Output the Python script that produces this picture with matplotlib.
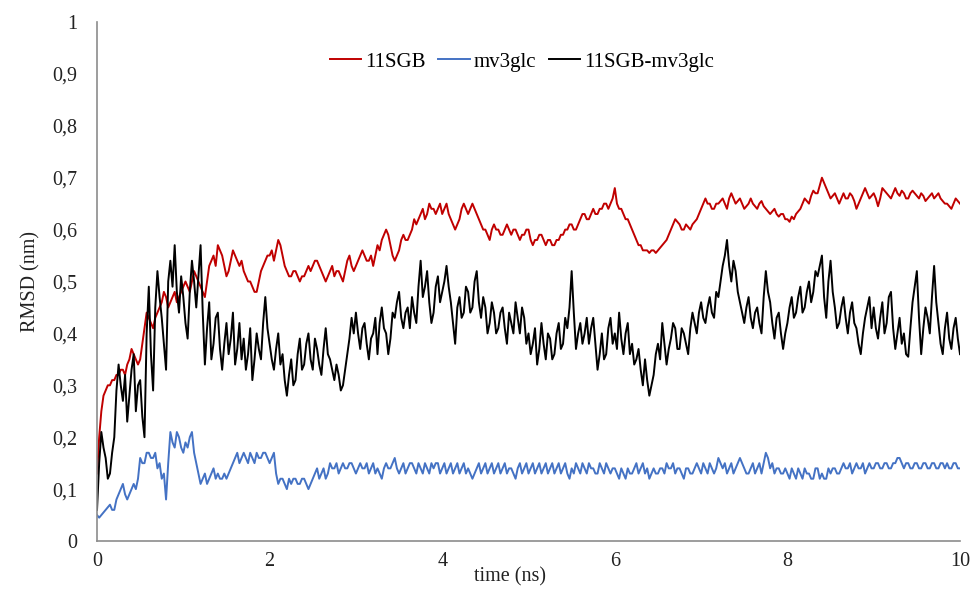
import numpy as np
import matplotlib
matplotlib.use("Agg")
import matplotlib.pyplot as plt

plt.rcParams["font.family"] = ["Liberation Serif", "DejaVu Serif"]

# RMSD traces sampled every 0.025 ns (one row per nanosecond)
time_step = 0.025

rmsd_11sgb = [
    0.13, 0.20, 0.25, 0.28, 0.29, 0.30, 0.30, 0.31, 0.31, 0.32, 0.32, 0.33, 0.33, 0.32, 0.34, 0.35, 0.37, 0.36, 0.35, 0.34,
    0.35, 0.38, 0.41, 0.44, 0.43, 0.42, 0.41, 0.43, 0.44, 0.45, 0.46, 0.48, 0.47, 0.45, 0.46, 0.47, 0.48, 0.46, 0.47, 0.48,
    0.49, 0.50, 0.49, 0.48, 0.50, 0.52, 0.51, 0.50, 0.49, 0.48, 0.47, 0.50, 0.53, 0.54, 0.55, 0.53, 0.57, 0.56, 0.55, 0.53,
    0.51, 0.52, 0.54, 0.56, 0.55, 0.54, 0.53, 0.54, 0.52, 0.51, 0.50, 0.50, 0.49, 0.48, 0.48, 0.50, 0.52, 0.53, 0.54, 0.55,
    0.55, 0.56, 0.54, 0.56, 0.58, 0.57, 0.55, 0.53, 0.52, 0.51, 0.51, 0.52, 0.52, 0.51, 0.50, 0.51, 0.51, 0.52, 0.53, 0.52,
    0.53, 0.54, 0.54, 0.53, 0.52, 0.51, 0.50, 0.51, 0.52, 0.53, 0.51, 0.52, 0.52, 0.51, 0.50, 0.52, 0.54, 0.55, 0.53, 0.52,
    0.53, 0.54, 0.55, 0.56, 0.55, 0.54, 0.54, 0.55, 0.53, 0.55, 0.57, 0.56, 0.58, 0.59, 0.60, 0.59, 0.57, 0.55, 0.54, 0.55,
    0.56, 0.58, 0.59, 0.58, 0.58, 0.59, 0.60, 0.62, 0.61, 0.62, 0.63, 0.64, 0.62, 0.63, 0.65, 0.64, 0.64, 0.63, 0.64, 0.65,
    0.63, 0.64, 0.65, 0.63, 0.62, 0.61, 0.60, 0.61, 0.62, 0.64, 0.65, 0.64, 0.63, 0.64, 0.65, 0.64, 0.63, 0.62, 0.61, 0.60,
    0.60, 0.59, 0.58, 0.60, 0.61, 0.60, 0.60, 0.59, 0.59, 0.60, 0.61, 0.60, 0.59, 0.60, 0.60, 0.59, 0.58, 0.59, 0.59, 0.60,
    0.60, 0.58, 0.57, 0.58, 0.58, 0.59, 0.59, 0.58, 0.57, 0.58, 0.58, 0.57, 0.57, 0.58, 0.58, 0.59, 0.59, 0.60, 0.60, 0.61,
    0.61, 0.60, 0.60, 0.61, 0.62, 0.63, 0.63, 0.62, 0.62, 0.63, 0.64, 0.63, 0.63, 0.64, 0.64, 0.65, 0.65, 0.64, 0.65, 0.66,
    0.68, 0.65, 0.64, 0.64, 0.63, 0.62, 0.62, 0.61, 0.60, 0.59, 0.58, 0.57, 0.57, 0.56, 0.56, 0.56, 0.555, 0.56, 0.56, 0.555,
    0.56, 0.565, 0.57, 0.575, 0.58, 0.59, 0.60, 0.61, 0.62, 0.615, 0.61, 0.60, 0.60, 0.61, 0.605, 0.60, 0.61, 0.615, 0.62, 0.63,
    0.64, 0.65, 0.66, 0.65, 0.65, 0.64, 0.64, 0.65, 0.65, 0.655, 0.66, 0.65, 0.64, 0.66, 0.67, 0.66, 0.65, 0.655, 0.66, 0.65,
    0.64, 0.645, 0.65, 0.66, 0.65, 0.645, 0.64, 0.65, 0.655, 0.645, 0.64, 0.635, 0.63, 0.635, 0.64, 0.63, 0.625, 0.63, 0.63, 0.62,
    0.62, 0.615, 0.625, 0.62, 0.63, 0.635, 0.64, 0.65, 0.66, 0.655, 0.65, 0.665, 0.675, 0.67, 0.67, 0.685, 0.70, 0.69, 0.68, 0.67,
    0.66, 0.665, 0.67, 0.66, 0.65, 0.66, 0.67, 0.66, 0.66, 0.67, 0.665, 0.655, 0.64, 0.65, 0.66, 0.67, 0.68, 0.67, 0.66, 0.665,
    0.67, 0.66, 0.645, 0.66, 0.68, 0.675, 0.67, 0.665, 0.66, 0.67, 0.68, 0.67, 0.665, 0.675, 0.67, 0.66, 0.66, 0.67, 0.675, 0.67,
    0.665, 0.66, 0.67, 0.665, 0.655, 0.66, 0.665, 0.67, 0.66, 0.665, 0.67, 0.66, 0.655, 0.65, 0.65, 0.645, 0.64, 0.65, 0.66, 0.655,
    0.65,
]

rmsd_mv3glc = [
    0.05, 0.045, 0.05, 0.055, 0.06, 0.065, 0.07, 0.06, 0.06, 0.08, 0.09, 0.10, 0.11, 0.09, 0.08, 0.09, 0.10, 0.11, 0.10, 0.12,
    0.16, 0.15, 0.15, 0.17, 0.17, 0.16, 0.16, 0.17, 0.14, 0.15, 0.12, 0.13, 0.08, 0.15, 0.21, 0.19, 0.18, 0.21, 0.20, 0.18,
    0.17, 0.19, 0.18, 0.20, 0.21, 0.17, 0.15, 0.13, 0.11, 0.12, 0.13, 0.11, 0.12, 0.13, 0.14, 0.12, 0.13, 0.12, 0.12, 0.13,
    0.12, 0.13, 0.14, 0.15, 0.16, 0.17, 0.15, 0.16, 0.17, 0.16, 0.15, 0.17, 0.16, 0.15, 0.17, 0.16, 0.16, 0.17, 0.17, 0.16,
    0.15, 0.16, 0.17, 0.13, 0.11, 0.12, 0.12, 0.11, 0.10, 0.12, 0.11, 0.12, 0.12, 0.11, 0.11, 0.12, 0.12, 0.11, 0.10, 0.11,
    0.12, 0.13, 0.14, 0.12, 0.13, 0.14, 0.12, 0.13, 0.15, 0.14, 0.14, 0.15, 0.13, 0.14, 0.15, 0.14, 0.14, 0.15, 0.15, 0.14,
    0.13, 0.14, 0.15, 0.14, 0.14, 0.15, 0.13, 0.14, 0.15, 0.13, 0.14, 0.13, 0.12, 0.14, 0.15, 0.14, 0.14, 0.15, 0.16, 0.14,
    0.13, 0.14, 0.15, 0.13, 0.14, 0.15, 0.15, 0.14, 0.13, 0.15, 0.14, 0.13, 0.15, 0.14, 0.13, 0.15, 0.14, 0.15, 0.15, 0.13,
    0.14, 0.15, 0.13, 0.14, 0.15, 0.13, 0.14, 0.15, 0.13, 0.14, 0.15, 0.13, 0.14, 0.13, 0.12, 0.13, 0.14, 0.15, 0.13, 0.14,
    0.15, 0.13, 0.14, 0.15, 0.13, 0.14, 0.15, 0.13, 0.14, 0.15, 0.13, 0.14, 0.14, 0.13, 0.12, 0.14, 0.15, 0.13, 0.14, 0.15,
    0.13, 0.14, 0.15, 0.13, 0.14, 0.15, 0.13, 0.14, 0.15, 0.13, 0.14, 0.15, 0.13, 0.14, 0.15, 0.13, 0.14, 0.15, 0.13, 0.12,
    0.14, 0.13, 0.15, 0.14, 0.13, 0.15, 0.14, 0.13, 0.15, 0.14, 0.14, 0.13, 0.13, 0.15, 0.14, 0.13, 0.15, 0.14, 0.13, 0.14,
    0.14, 0.13, 0.12, 0.14, 0.13, 0.12, 0.14, 0.13, 0.13, 0.14, 0.15, 0.13, 0.14, 0.15, 0.13, 0.14, 0.12, 0.13, 0.14, 0.13,
    0.13, 0.14, 0.14, 0.13, 0.15, 0.14, 0.14, 0.15, 0.13, 0.14, 0.14, 0.13, 0.12, 0.14, 0.14, 0.13, 0.13, 0.14, 0.15, 0.14,
    0.13, 0.15, 0.14, 0.13, 0.15, 0.14, 0.13, 0.14, 0.16, 0.15, 0.14, 0.15, 0.13, 0.14, 0.15, 0.13, 0.14, 0.15, 0.16, 0.15,
    0.14, 0.13, 0.13, 0.14, 0.15, 0.13, 0.14, 0.15, 0.13, 0.15, 0.17, 0.16, 0.14, 0.15, 0.13, 0.14, 0.14, 0.13, 0.13, 0.14,
    0.13, 0.12, 0.14, 0.13, 0.12, 0.14, 0.13, 0.12, 0.14, 0.13, 0.13, 0.12, 0.12, 0.14, 0.14, 0.12, 0.13, 0.12, 0.12, 0.14,
    0.13, 0.14, 0.14, 0.13, 0.13, 0.14, 0.15, 0.14, 0.14, 0.15, 0.13, 0.14, 0.15, 0.14, 0.14, 0.15, 0.13, 0.14, 0.15, 0.14,
    0.14, 0.15, 0.15, 0.14, 0.14, 0.15, 0.15, 0.14, 0.14, 0.15, 0.15, 0.16, 0.16, 0.15, 0.14, 0.15, 0.15, 0.14, 0.14, 0.15,
    0.15, 0.14, 0.14, 0.15, 0.15, 0.14, 0.14, 0.15, 0.15, 0.14, 0.14, 0.15, 0.15, 0.14, 0.15, 0.14, 0.14, 0.15, 0.15, 0.14,
    0.14,
]

rmsd_complex = [
    0.06, 0.15, 0.21, 0.18, 0.16, 0.12, 0.13, 0.17, 0.20, 0.29, 0.34, 0.30, 0.27, 0.32, 0.23, 0.28, 0.33, 0.36, 0.25, 0.30,
    0.31, 0.24, 0.20, 0.40, 0.49, 0.36, 0.29, 0.45, 0.52, 0.47, 0.43, 0.38, 0.33, 0.50, 0.54, 0.49, 0.57, 0.48, 0.44, 0.51,
    0.47, 0.42, 0.39, 0.48, 0.54, 0.50, 0.45, 0.51, 0.57, 0.44, 0.34, 0.41, 0.46, 0.35, 0.38, 0.43, 0.44, 0.37, 0.33, 0.38,
    0.42, 0.36, 0.39, 0.44, 0.34, 0.37, 0.42, 0.35, 0.39, 0.33, 0.36, 0.41, 0.31, 0.35, 0.40, 0.37, 0.35, 0.42, 0.47, 0.41,
    0.38, 0.35, 0.33, 0.37, 0.40, 0.34, 0.36, 0.31, 0.28, 0.32, 0.35, 0.30, 0.31, 0.36, 0.39, 0.33, 0.34, 0.38, 0.40, 0.35,
    0.33, 0.39, 0.37, 0.34, 0.32, 0.37, 0.41, 0.36, 0.35, 0.33, 0.31, 0.34, 0.32, 0.29, 0.30, 0.33, 0.36, 0.39, 0.43, 0.40,
    0.44, 0.40, 0.37, 0.41, 0.42, 0.38, 0.35, 0.39, 0.40, 0.43, 0.36, 0.42, 0.45, 0.41, 0.40, 0.36, 0.39, 0.44, 0.43, 0.46,
    0.48, 0.43, 0.41, 0.44, 0.45, 0.41, 0.47, 0.44, 0.42, 0.49, 0.54, 0.47, 0.49, 0.52, 0.46, 0.42, 0.44, 0.49, 0.51, 0.46,
    0.48, 0.50, 0.53, 0.49, 0.46, 0.42, 0.38, 0.45, 0.47, 0.43, 0.44, 0.49, 0.48, 0.44, 0.45, 0.50, 0.52, 0.46, 0.43, 0.47,
    0.45, 0.40, 0.42, 0.46, 0.44, 0.40, 0.41, 0.44, 0.45, 0.41, 0.38, 0.44, 0.42, 0.40, 0.46, 0.43, 0.40, 0.45, 0.43, 0.38,
    0.40, 0.36, 0.38, 0.41, 0.34, 0.37, 0.42, 0.38, 0.35, 0.40, 0.39, 0.35, 0.36, 0.40, 0.42, 0.37, 0.38, 0.43, 0.41, 0.45,
    0.52, 0.44, 0.37, 0.40, 0.42, 0.38, 0.40, 0.43, 0.38, 0.41, 0.43, 0.38, 0.33, 0.36, 0.40, 0.35, 0.36, 0.41, 0.43, 0.38,
    0.40, 0.37, 0.44, 0.39, 0.36, 0.40, 0.42, 0.36, 0.38, 0.34, 0.35, 0.37, 0.33, 0.30, 0.35, 0.31, 0.28, 0.30, 0.32, 0.36,
    0.38, 0.35, 0.42, 0.38, 0.34, 0.37, 0.39, 0.42, 0.41, 0.37, 0.37, 0.41, 0.40, 0.38, 0.36, 0.41, 0.44, 0.42, 0.40, 0.44,
    0.46, 0.43, 0.42, 0.45, 0.47, 0.44, 0.43, 0.48, 0.47, 0.50, 0.53, 0.55, 0.58, 0.53, 0.50, 0.54, 0.52, 0.48, 0.46, 0.44,
    0.42, 0.45, 0.47, 0.43, 0.41, 0.44, 0.45, 0.42, 0.40, 0.47, 0.52, 0.48, 0.46, 0.42, 0.39, 0.43, 0.44, 0.40, 0.37, 0.40,
    0.42, 0.45, 0.47, 0.43, 0.44, 0.47, 0.49, 0.44, 0.45, 0.48, 0.50, 0.46, 0.48, 0.52, 0.51, 0.53, 0.55, 0.47, 0.43, 0.50,
    0.54, 0.48, 0.45, 0.41, 0.42, 0.45, 0.47, 0.43, 0.40, 0.44, 0.46, 0.42, 0.41, 0.38, 0.36, 0.40, 0.43, 0.45, 0.47, 0.41,
    0.45, 0.41, 0.39, 0.43, 0.46, 0.40, 0.42, 0.47, 0.48, 0.41, 0.37, 0.40, 0.43, 0.38, 0.40, 0.36, 0.355, 0.41, 0.46, 0.49,
    0.52, 0.43, 0.36, 0.41, 0.45, 0.43, 0.40, 0.47, 0.53, 0.46, 0.42, 0.38, 0.36, 0.41, 0.44, 0.39, 0.37, 0.41, 0.43, 0.39,
    0.36,
]

series_names = ["11SGB", "mv3glc", "11SGB-mv3glc"]
series_colors = ["#C00000", "#4472C4", "#000000"]

x_ticks = [0, 2, 4, 6, 8, 10]
y_ticks = [0, 0.1, 0.2, 0.3, 0.4, 0.5, 0.6, 0.7, 0.8, 0.9, 1.0]
y_tick_labels = ["0", "0,1", "0,2", "0,3", "0,4", "0,5", "0,6", "0,7", "0,8", "0,9", "1"]

fig = plt.figure(figsize=(9.78, 5.94), dpi=100)
ax = fig.add_axes([0.0992, 0.0892, 0.8824, 0.8738])

for values, name, color in zip([rmsd_11sgb, rmsd_mv3glc, rmsd_complex], series_names, series_colors):
    time = np.arange(len(values)) * time_step
    ax.plot(time, values, color=color, lw=1.4, label=name)

ax.set_xlim(0, 10)
ax.set_ylim(0, 1)
ax.set_xticks(x_ticks)
ax.set_xticklabels([str(t) for t in x_ticks])
ax.set_yticks(y_ticks)
ax.set_yticklabels(y_tick_labels)
ax.tick_params(axis="both", length=0, labelsize=14.5, colors="#222222")
ax.tick_params(axis="y", pad=14)
ax.tick_params(axis="x", pad=8)

for side in ["top", "right"]:
    ax.spines[side].set_visible(False)
for side in ["left", "bottom"]:
    ax.spines[side].set_color("#8c8c8c")
    ax.spines[side].set_linewidth(1.2)

ax.set_xlabel("time (ns)", fontsize=14.5, color="#222222")
ax.xaxis.set_label_coords(0.4786, -0.050)
ax.set_ylabel("RMSD (nm)", fontsize=14.5, color="#222222")
ax.yaxis.set_label_coords(-0.066, 0.5)

ax.legend(loc="center", bbox_to_anchor=(0.4925, 0.923), ncol=3, frameon=False,
          fontsize=15, handlelength=1.5, handletextpad=0.2, columnspacing=0.6)

fig.savefig("out.png", dpi=100, facecolor="white")
